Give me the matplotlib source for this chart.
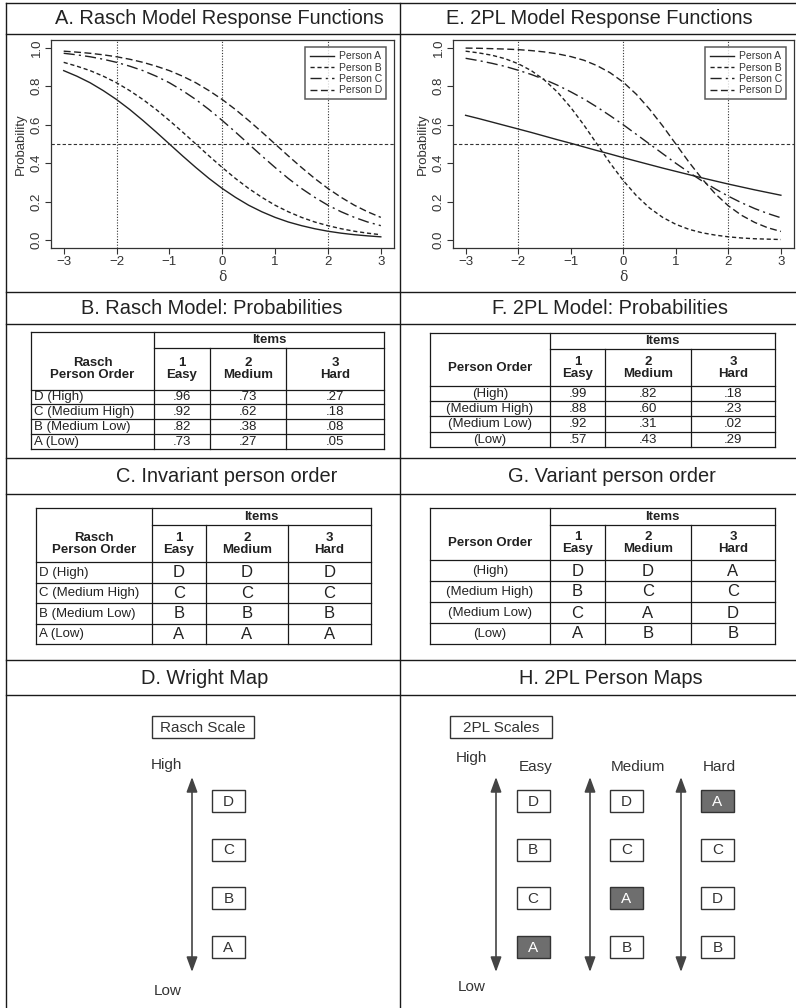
import matplotlib
matplotlib.use('Agg')
import matplotlib.pyplot as plt
from matplotlib.patches import Rectangle, FancyArrowPatch

plt.rcParams['font.family'] = ['Liberation Sans', 'DejaVu Sans']

W, H = 796, 1008

# ---- data ----
delta = [-3.0, -2.75, -2.5, -2.25, -2.0, -1.75, -1.5, -1.25, -1.0, -0.75, -0.5, -0.25, 0.0,
         0.25, 0.5, 0.75, 1.0, 1.25, 1.5, 1.75, 2.0, 2.25, 2.5, 2.75, 3.0]

# Rasch model response functions (panel A)
rasch_A = [.881, .852, .818, .777, .731, .679, .622, .562, .500, .438, .378, .321, .269,
           .223, .182, .148, .119, .095, .076, .060, .047, .037, .029, .023, .018]
rasch_B = [.924, .904, .881, .852, .818, .777, .731, .679, .622, .562, .500, .438, .378,
           .321, .269, .223, .182, .148, .119, .095, .076, .060, .047, .037, .029]
rasch_C = [.971, .963, .953, .940, .924, .904, .881, .852, .818, .777, .731, .679, .622,
           .562, .500, .438, .378, .321, .269, .223, .182, .148, .119, .095, .076]
rasch_D = [.982, .977, .971, .963, .953, .940, .924, .904, .881, .852, .818, .777, .731,
           .679, .622, .562, .500, .438, .378, .321, .269, .223, .182, .148, .119]

# 2PL model response functions (panel E)
tpl_A = [.649, .632, .614, .596, .578, .560, .541, .522, .504, .485, .466, .448, .429,
         .411, .393, .375, .358, .341, .324, .308, .292, .277, .262, .248, .234]
tpl_B = [.982, .973, .961, .943, .917, .881, .832, .769, .690, .599, .500, .401, .310,
         .232, .168, .119, .083, .057, .039, .027, .018, .012, .008, .006, .004]
tpl_C = [.945, .933, .919, .903, .883, .861, .835, .805, .771, .734, .692, .647, .600,
         .550, .500, .450, .400, .353, .308, .267, .229, .195, .165, .139, .117]
tpl_D = [.998, .997, .995, .993, .990, .985, .978, .968, .954, .935, .907, .870, .821,
         .758, .681, .594, .500, .406, .319, .242, .179, .130, .093, .065, .046]

persons = ['Person A', 'Person B', 'Person C', 'Person D']
item_delta = [-2, 0, 2]
item_nums = ['1', '2', '3']
item_names = ['Easy', 'Medium', 'Hard']

rasch_rows = ['D (High)', 'C (Medium High)', 'B (Medium Low)', 'A (Low)']
rasch_probs = [['.96', '.73', '.27'],
               ['.92', '.62', '.18'],
               ['.82', '.38', '.08'],
               ['.73', '.27', '.05']]
tpl_rows = ['(High)', '(Medium High)', '(Medium Low)', '(Low)']
tpl_probs = [['.99', '.82', '.18'],
             ['.88', '.60', '.23'],
             ['.92', '.31', '.02'],
             ['.57', '.43', '.29']]
rasch_order = [['D', 'D', 'D'],
               ['C', 'C', 'C'],
               ['B', 'B', 'B'],
               ['A', 'A', 'A']]
tpl_order = [['D', 'D', 'A'],
             ['B', 'C', 'C'],
             ['C', 'A', 'D'],
             ['A', 'B', 'B']]
highlight = 'A'

LC = '#1a1a1a'
TC = '#222222'

fig = plt.figure(figsize=(W / 100, H / 100), dpi=100)
bg = fig.add_axes([0, 0, 1, 1])
bg.set_xlim(0, W)
bg.set_ylim(H, 0)
bg.axis('off')


def frac(l, t, r, b):
    return [l / W, 1 - b / H, (r - l) / W, (b - t) / H]


# panel frame
for y in [3, 34, 292, 324, 458, 494, 660, 695]:
    bg.plot([6, W], [y, y], color=LC, lw=1)
for x in [6, 400]:
    bg.plot([x, x], [3, H], color=LC, lw=1)

titles = [('A. Rasch Model Response Functions', 219, 19),
          ('E. 2PL Model Response Functions', 599, 19),
          ('B. Rasch Model: Probabilities', 212, 308),
          ('F. 2PL Model: Probabilities', 610, 308),
          ('C. Invariant person order', 227, 477),
          ('G. Variant person order', 612, 477),
          ('D. Wright Map', 205, 678),
          ('H. 2PL Person Maps', 611, 678)]
for txt, x, y in titles:
    bg.text(x, y, txt, fontsize=14.4, ha='center', va='center', color=TC)

# ---- response function plots ----
styles = ['-', (0, (3, 2)), (0, (8, 3, 1.5, 3)), (0, (5, 2.5))]


def curve_panel(rect, series):
    ax = fig.add_axes(frac(*rect))
    for name, vals, ls in zip(persons, series, styles):
        ax.plot(delta, vals, color='#222', lw=1, ls=ls, label=name)
    for d in item_delta:
        ax.axvline(d, color='#333', lw=0.8, ls=(0, (1, 1.5)))
    ax.axhline(0.5, color='#333', lw=0.8, ls=(0, (3, 2)))
    ax.set_xlim(-3.24, 3.24)
    ax.set_ylim(-0.04, 1.04)
    ax.set_xticks(range(-3, 4))
    ax.set_yticks([0, 0.2, 0.4, 0.6, 0.8, 1.0])
    ax.set_yticklabels(['0.0', '0.2', '0.4', '0.6', '0.8', '1.0'])
    ax.tick_params(direction='out', length=4, width=0.8, labelsize=9.5,
                   colors='#333', pad=1.5)
    ax.tick_params(axis='y', labelrotation=90, pad=2)
    for t in ax.get_yticklabels():
        t.set_va('center')
    for s in ax.spines.values():
        s.set_color('#333')
        s.set_linewidth(0.9)
    ax.set_ylabel('Probability', fontsize=9.5, color='#333', labelpad=3)
    ax.set_xlabel('δ', fontsize=10, color='#333', family='DejaVu Serif', labelpad=2)
    leg = ax.legend(loc='upper right', fontsize=7.5, frameon=True, fancybox=False,
                    edgecolor='#333', handlelength=2.3, handletextpad=0.5,
                    labelspacing=0.12, borderpad=0.4, borderaxespad=0.7)
    leg.get_frame().set_linewidth(1.1)
    for t in leg.get_texts():
        t.set_color('#333')
    return ax


curve_panel((51, 40, 393.5, 248), [rasch_A, rasch_B, rasch_C, rasch_D])
curve_panel((453, 40, 793.5, 248), [tpl_A, tpl_B, tpl_C, tpl_D])


# ---- tables ----
def draw_table(left, cols, right, top, items_y, head_y, bottom, row_labels, cells,
               header, label_left, cell_size):
    lw = 0.9
    xs = [left] + cols + [right]
    bg.plot([left, right], [top, top], color=LC, lw=lw)
    bg.plot([cols[0], right], [items_y, items_y], color=LC, lw=lw)
    n = len(row_labels)
    rh = (bottom - head_y) / n
    for i in range(n + 1):
        y = head_y + i * rh
        bg.plot([left, right], [y, y], color=LC, lw=lw)
    bg.plot([left, left], [top, bottom], color=LC, lw=lw)
    bg.plot([cols[0], cols[0]], [top, bottom], color=LC, lw=lw)
    for x in cols[1:]:
        bg.plot([x, x], [items_y, bottom], color=LC, lw=lw)
    bg.plot([right, right], [top, bottom], color=LC, lw=lw)

    bg.text((cols[0] + right) / 2, (top + items_y) / 2 + 0.5, 'Items', fontsize=9.5,
            fontweight='bold', ha='center', va='center', color=TC)
    hy = (items_y + head_y) / 2 + 0.5
    bg.text((left + cols[0]) / 2, hy, header, fontsize=9.5, fontweight='bold',
            ha='center', va='center', color=TC, linespacing=1.05)
    for j in range(3):
        cx = (xs[j + 1] + xs[j + 2]) / 2
        bg.text(cx, hy, item_nums[j] + '\n' + item_names[j], fontsize=9.5,
                fontweight='bold', ha='center', va='center', color=TC, linespacing=1.05)
    for i, lab in enumerate(row_labels):
        cy = head_y + (i + 0.5) * rh + 0.5
        if label_left:
            bg.text(left + 3, cy, lab, fontsize=9.5, ha='left', va='center', color=TC)
        else:
            bg.text((left + cols[0]) / 2, cy, lab, fontsize=9.5, ha='center',
                    va='center', color=TC)
        for j in range(3):
            cx = (xs[j + 1] + xs[j + 2]) / 2
            bg.text(cx, cy, cells[i][j], fontsize=cell_size, ha='center', va='center',
                    color=TC)


draw_table(31, [154, 210, 286], 384, 332, 347.5, 389.5, 449, rasch_rows, rasch_probs,
           'Rasch\nPerson Order', True, 9.5)
draw_table(430, [550, 605, 691], 775, 333, 349, 385.5, 447, tpl_rows, tpl_probs,
           'Person Order', False, 9.5)
draw_table(36, [152, 206, 288], 371, 508, 525, 562, 644, rasch_rows, rasch_order,
           'Rasch\nPerson Order', True, 12)
draw_table(430, [550, 605, 691], 775, 508, 525, 560, 644, tpl_rows, tpl_order,
           'Person Order', False, 12)


# ---- person maps ----
MC = '#333333'
rank_y = [801 + i * 48.7 for i in range(4)]


def scale_arrow(x):
    arr = FancyArrowPatch((x, 972), (x, 777),
                          arrowstyle='<|-|>,head_length=0.9,head_width=0.33',
                          mutation_scale=10, color='#444', lw=1.2,
                          shrinkA=0, shrinkB=0)
    bg.add_patch(arr)


def person_box(cx, cy, letter, filled):
    fc = '#6e6e6e' if filled else 'white'
    bg.add_patch(Rectangle((cx - 16.5, cy - 11), 33, 22, facecolor=fc,
                           edgecolor=MC, lw=1))
    bg.text(cx, cy + 0.5, letter, fontsize=11, ha='center', va='center',
            color='white' if filled else MC)


def label_box(cx, cy, txt):
    bg.add_patch(Rectangle((cx - 51, cy - 11), 102, 22, facecolor='white',
                           edgecolor=MC, lw=1))
    bg.text(cx, cy + 0.5, txt, fontsize=11, ha='center', va='center', color=MC)


# D. Wright map
label_box(203, 727, 'Rasch Scale')
bg.text(166, 765, 'High', fontsize=11, ha='center', va='center', color=MC)
bg.text(168, 991, 'Low', fontsize=11, ha='center', va='center', color=MC)
scale_arrow(192)
for i in range(4):
    person_box(228.5, rank_y[i], rasch_order[i][0], False)

# H. 2PL person maps
label_box(501, 727, '2PL Scales')
bg.text(471, 758, 'High', fontsize=11, ha='center', va='center', color=MC)
bg.text(472, 987, 'Low', fontsize=11, ha='center', va='center', color=MC)
arrow_x = [496, 590, 681]
box_x = [533, 626.5, 717.5]
head_x = [536, 638, 719]
for j in range(3):
    scale_arrow(arrow_x[j])
    bg.text(head_x[j], 767, item_names[j], fontsize=11, ha='center', va='center',
            color=MC)
    for i in range(4):
        letter = tpl_order[i][j]
        person_box(box_x[j], rank_y[i], letter, letter == highlight)

fig.savefig('out.png', dpi=100)
